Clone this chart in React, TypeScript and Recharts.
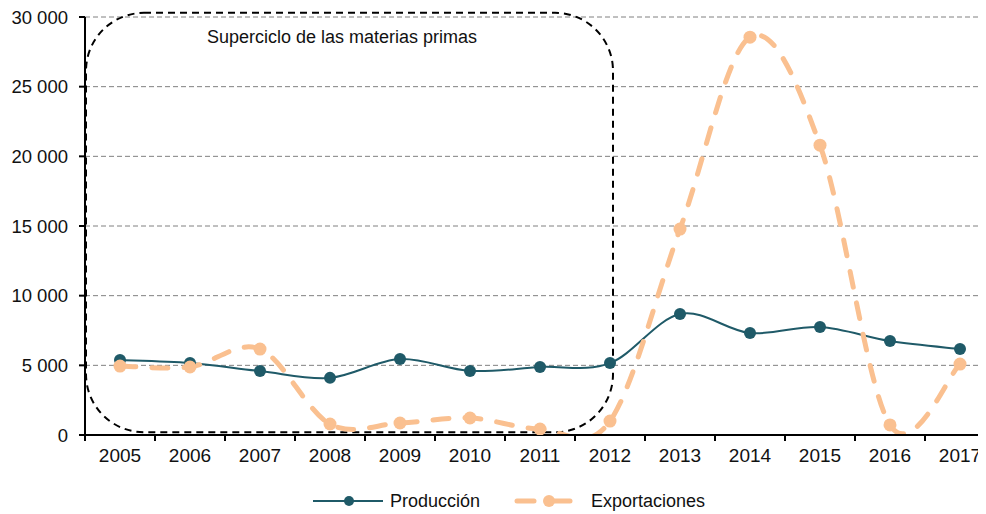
import React from 'react';
import {
  LineChart,
  Line,
  XAxis,
  YAxis,
  CartesianGrid,
  Legend,
  ReferenceArea,
} from 'recharts';

const years = ['2005', '2006', '2007', '2008', '2009', '2010', '2011', '2012', '2013', '2014', '2015', '2016', '2017'];
const produccion = [5380, 5170, 4590, 4100, 5450, 4600, 4880, 5160, 8680, 7320, 7750, 6740, 6170];
const exportaciones = [4950, 4880, 6170, 790, 860, 1220, 430, 1000, 14780, 28550, 20800, 720, 5090];
const yTicks = [0, 5000, 10000, 15000, 20000, 25000, 30000];
const boxLabel = 'Superciclo de las materias primas';

const data = years.map((year, i) => ({
  year,
  produccion: produccion[i],
  exportaciones: exportaciones[i],
}));

const TEAL = '#1F5A68';
const PEACH = '#FAC090';
const FONT = '"Liberation Sans", Arial, sans-serif';

// Excel-like smoothing (cardinal spline, tension 0)
const smoothCurve = (context: any) => {
  let pts: number[][] = [];
  return {
    areaStart() {},
    areaEnd() {},
    lineStart() {
      pts = [];
    },
    point(x: number, y: number) {
      pts.push([+x, +y]);
    },
    lineEnd() {
      const n = pts.length;
      if (!n) return;
      context.moveTo(pts[0][0], pts[0][1]);
      for (let i = 0; i < n - 1; i++) {
        const p0 = pts[i - 1] || pts[i];
        const p1 = pts[i];
        const p2 = pts[i + 1];
        const p3 = pts[i + 2] || pts[i + 1];
        context.bezierCurveTo(
          p1[0] + (p2[0] - p0[0]) / 6,
          p1[1] + (p2[1] - p0[1]) / 6,
          p2[0] - (p3[0] - p1[0]) / 6,
          p2[1] - (p3[1] - p1[1]) / 6,
          p2[0],
          p2[1]
        );
      }
    },
  };
};

const fmt = (v: number) => String(v).replace(/\B(?=(\d{3})+(?!\d))/g, ' ');

const YearTick = (props: any) => {
  const { x, y, payload } = props;
  const off = payload.offset || 35;
  return (
    <g>
      <line x1={x - off} x2={x - off} y1={y - 8} y2={y - 2} stroke="#000" strokeWidth={2} />
      <text x={x} y={y + 19} textAnchor="middle" fontSize={19} fontFamily={FONT} fill="#111">
        {payload.value}
      </text>
    </g>
  );
};

const ValueTick = (props: any) => {
  const { x, y, payload } = props;
  return (
    <text x={x - 3} y={y} textAnchor="end" dominantBaseline="central" fontSize={18.5} fontFamily={FONT} fill="#111">
      {fmt(payload.value)}
    </text>
  );
};

const BoxShape = (props: any) => {
  const { x, y, width, height } = props;
  const w = width - width / 16 + 3;
  return (
    <g>
      <rect
        x={x + 1}
        y={y}
        width={w - 1}
        height={height}
        rx={58}
        ry={58}
        fill="none"
        stroke="#000"
        strokeWidth={2}
        strokeDasharray="7 5"
      />
      <text x={x + 122} y={y + 24} dominantBaseline="central" fontSize={18} fontFamily={FONT} fill="#111">
        {boxLabel}
      </text>
    </g>
  );
};

const LegendContent = () => (
  <div
    style={{
      display: 'flex',
      justifyContent: 'center',
      alignItems: 'center',
      paddingLeft: 15,
      height: 26,
      fontFamily: FONT,
      fontSize: 18,
      color: '#111',
    }}
  >
    <svg width={70} height={16} style={{ marginRight: 7 }}>
      <line x1={0} x2={70} y1={8} y2={8} stroke={TEAL} strokeWidth={2} />
      <circle cx={36} cy={8} r={5} fill={TEAL} />
    </svg>
    <span style={{ marginRight: 34 }}>Producción</span>
    <svg width={60} height={16} style={{ marginRight: 17 }}>
      <line x1={3} x2={20} y1={8} y2={8} stroke={PEACH} strokeWidth={5} strokeLinecap="round" />
      <line x1={35} x2={56} y1={8} y2={8} stroke={PEACH} strokeWidth={5} strokeLinecap="round" />
      <circle cx={35} cy={8} r={6} fill={PEACH} />
    </svg>
    <span>Exportaciones</span>
  </div>
);

export default function App() {
  return (
    <div style={{ width: 978, overflow: 'hidden' }}>
      <LineChart width={988} height={506} data={data} margin={{ top: 9, right: 1, left: 0, bottom: 0 }}>
        <CartesianGrid vertical={false} stroke="#808080" strokeDasharray="5 3" />
        <XAxis
          dataKey="year"
          scale="band"
          height={53}
          axisLine={{ stroke: '#000', strokeWidth: 2 }}
          tickLine={false}
          tick={<YearTick />}
          interval={0}
        />
        <YAxis
          width={77}
          domain={[0, 30000]}
          ticks={yTicks}
          axisLine={{ stroke: '#000', strokeWidth: 2 }}
          tickLine={{ stroke: '#000', strokeWidth: 2 }}
          tickSize={6}
          tickMargin={8}
          tick={<ValueTick />}
          allowDataOverflow
        />
        <Legend verticalAlign="bottom" height={26} content={<LegendContent />} />
        <Line
          dataKey="produccion"
          type={smoothCurve as any}
          stroke={TEAL}
          strokeWidth={2}
          dot={{ r: 6, fill: TEAL, stroke: TEAL, strokeWidth: 0 }}
          activeDot={false}
          isAnimationActive={false}
        />
        <Line
          dataKey="exportaciones"
          type={smoothCurve as any}
          stroke={PEACH}
          strokeWidth={5}
          strokeDasharray="16 16"
          strokeLinecap="round"
          dot={{ r: 6.5, fill: PEACH, stroke: PEACH, strokeWidth: 0 }}
          activeDot={false}
          isAnimationActive={false}
        />
        <ReferenceArea
          x1="2005"
          x2="2012"
          y1={200}
          y2={30300}
          ifOverflow="visible"
          shape={<BoxShape />}
        />
      </LineChart>
    </div>
  );
}
